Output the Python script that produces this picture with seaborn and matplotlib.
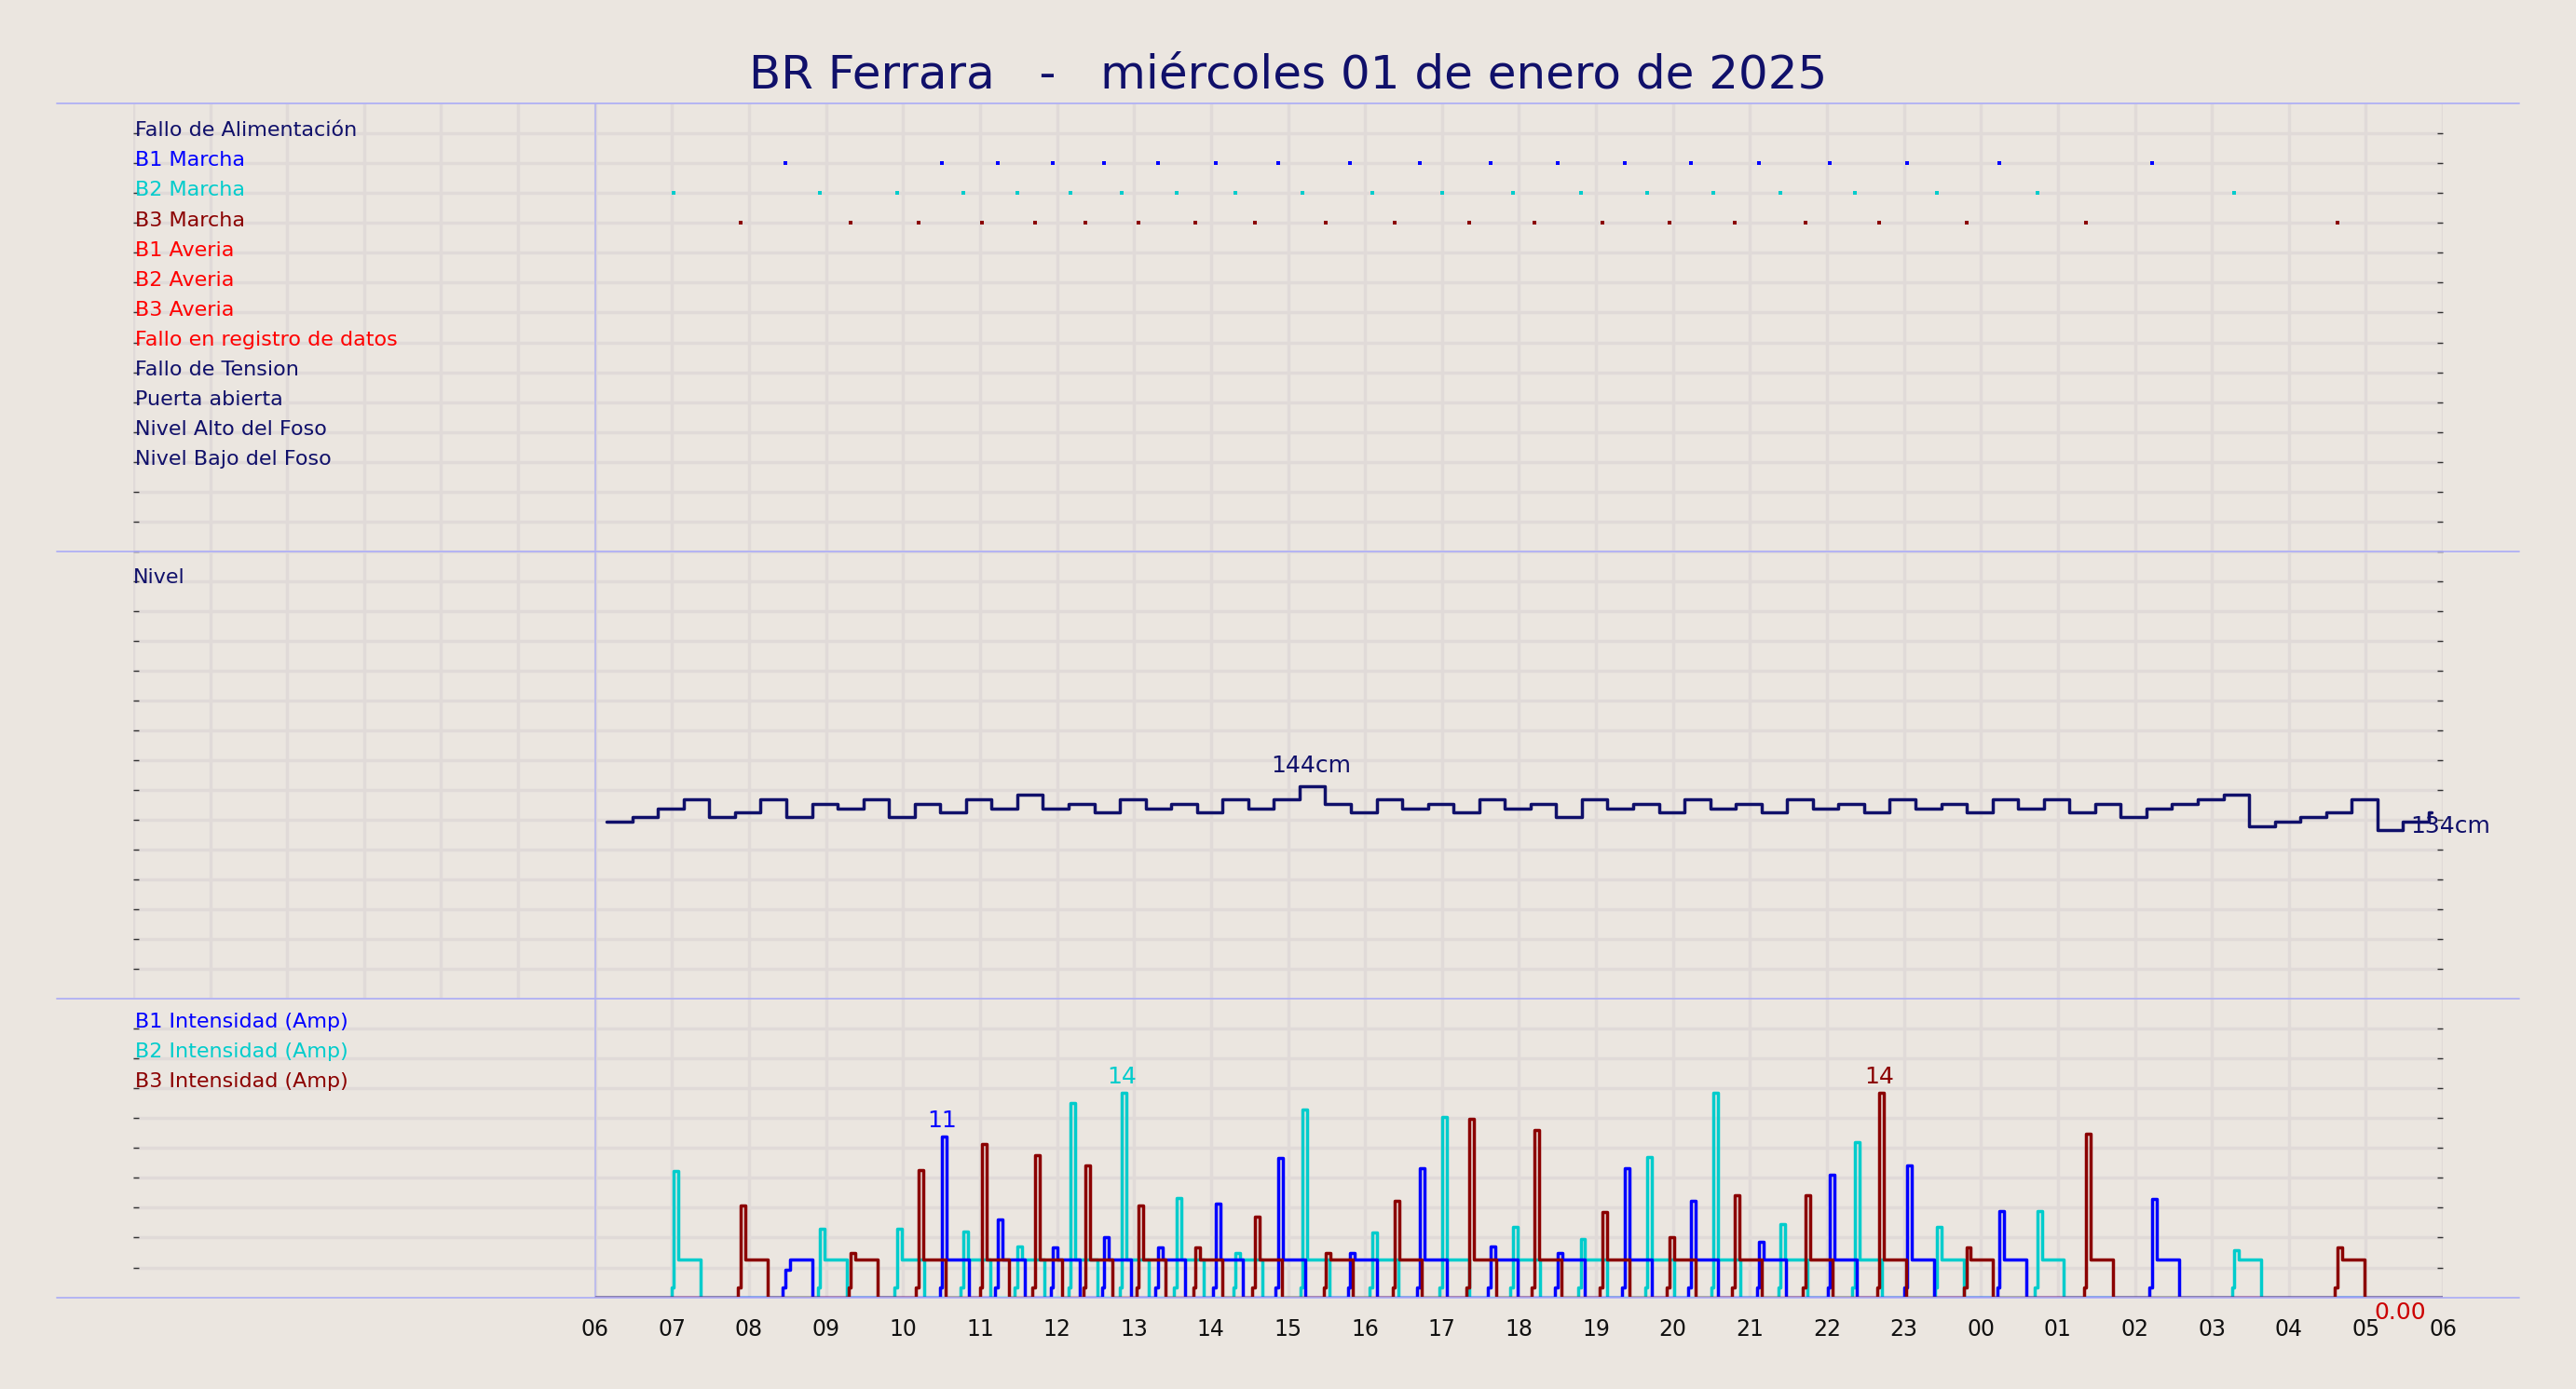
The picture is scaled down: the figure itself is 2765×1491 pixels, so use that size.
import numpy as np
import pandas as pd
import matplotlib
matplotlib.use("Agg")
import matplotlib.pyplot as plt
import seaborn as sns

sns.set_theme(style="white")
plt.rcParams['font.family'] = ['DejaVu Sans']

BG = '#ebe6e0'
NAVY = '#10106a'
C_B1, C_B2, C_B3, C_RED = '#0000ff', '#00cccc', '#8b0000', '#ff0000'

title = "BR Ferrara   -   miércoles 01 de enero de 2025"
row_labels = ["Fallo de Alimentación", "B1 Marcha", "B2 Marcha", "B3 Marcha", "B1 Averia",
              "B2 Averia", "B3 Averia", "Fallo en registro de datos", "Fallo de Tension",
              "Puerta abierta", "Nivel Alto del Foso", "Nivel Bajo del Foso"]
row_colors = [NAVY, C_B1, C_B2, C_B3, C_RED, C_RED, C_RED, C_RED, NAVY, NAVY, NAVY, NAVY]
hour_labels = ["06","07","08","09","10","11","12","13","14","15","16","17","18","19","20",
               "21","22","23","00","01","02","03","04","05","06"]

# pump start times (hours since 00:00 of the day) and peak current (A)
b1_start = [8.47, 10.51, 11.23, 11.95, 12.61, 13.31, 14.06, 14.87, 15.81, 16.71, 17.63, 18.5,
            19.37, 20.23, 21.12, 22.04, 23.04, 24.24, 26.22]
b1_peak = [1.9, 11.0, 5.3, 3.4, 4.1, 3.4, 6.4, 9.5, 3.0, 8.8, 3.5, 3.0, 8.8, 6.6, 3.8, 8.4,
           9.0, 5.9, 6.7]
b2_start = [7.02, 8.92, 9.92, 10.78, 11.48, 12.18, 12.84, 13.55, 14.32, 15.19, 16.09, 17.0,
            17.92, 18.8, 19.67, 20.53, 21.4, 22.36, 23.43, 24.73, 27.29]
b2_peak = [8.6, 4.7, 4.7, 4.5, 3.5, 13.3, 14.0, 6.8, 3.0, 12.8, 4.4, 12.3, 4.8, 4.0, 9.6,
           14.0, 5.0, 10.6, 4.8, 5.9, 3.2]
b3_start = [7.89, 9.32, 10.2, 11.03, 11.71, 12.37, 13.06, 13.8, 14.57, 15.49, 16.39, 17.35,
            18.2, 19.08, 19.95, 20.8, 21.72, 22.68, 23.81, 25.37, 28.63]
b3_peak = [6.3, 3.0, 8.7, 10.5, 9.7, 9.0, 6.3, 3.4, 5.5, 3.0, 6.6, 12.2, 11.4, 5.8, 4.1,
           7.0, 7.0, 14.0, 3.4, 11.2, 3.4]

level_cm = [136, 137, 139, 141, 137, 138, 141, 137, 140, 139, 141, 137, 140, 138, 141, 139,
            142, 139, 140, 138, 141, 139, 140, 138, 141, 139, 141, 144, 140, 138, 141, 139,
            140, 138, 141, 139, 140, 137, 141, 139, 140, 138, 141, 139, 140, 138, 141, 139,
            140, 138, 141, 139, 140, 138, 141, 139, 141, 138, 140, 137, 139, 140, 141, 142,
            135, 136, 137, 138, 141, 134, 136, 138]
level_step_h = 1/3

W, H = 27.65, 14.91
fig = plt.figure(figsize=(W, H), dpi=100, facecolor=BG)
L, R = 0.0517, 0.9483
y_sep = [0.9255, 0.603, 0.281, 0.066]
ax_top = fig.add_axes([L, y_sep[1], R-L, y_sep[0]-y_sep[1]])
ax_mid = fig.add_axes([L, y_sep[2], R-L, y_sep[1]-y_sep[2]])
ax_bot = fig.add_axes([L, y_sep[3], R-L, y_sep[2]-y_sep[3]])

GRID = '#e0dad8'
for ax in (ax_top, ax_mid, ax_bot):
    ax.set_facecolor(BG)
    ax.set_xlim(0, 30)
    for s in ax.spines.values():
        s.set_visible(False)
    ax.set_xticks(np.arange(0, 31, 1))
    ax.grid(True, color=GRID, lw=2.5)
    ax.set_axisbelow(True)
    ax.tick_params(axis='y', which='both', left=True, right=True, labelleft=False,
                   length=4, width=1, direction='in', color='#333333')
    ax.tick_params(axis='x', bottom=False, labelbottom=False)
    ax.axvline(6, color='#b8b8f0', lw=1.2, zorder=1)

def steps(t, v):
    """explicit step vertices (steps-post)"""
    xs, ys = [], []
    for i in range(len(t)):
        if i > 0:
            xs.append(t[i]); ys.append(v[i - 1])
        xs.append(t[i]); ys.append(v[i])
    return pd.DataFrame({'t': xs, 'v': ys, 'o': np.arange(len(xs))})

# top panel
ax_top.set_ylim(15, 0)
ax_top.set_yticks(np.arange(1, 16))
for i, (lab, col) in enumerate(zip(row_labels, row_colors)):
    ax_top.text(0.02, i + 1.1, lab, color=col, fontsize=16, va='baseline', ha='left')
for starts, row, col in [(b1_start, 2, C_B1), (b2_start, 3, C_B2), (b3_start, 4, C_B3)]:
    d = pd.DataFrame({'t': starts, 'r': [row] * len(starts)})
    sns.scatterplot(data=d, x='t', y='r', marker='s', s=12, color=col, linewidth=0, ax=ax_top)
ax_top.set_xlabel(''); ax_top.set_ylabel('')

# middle panel
ax_mid.set_ylim(96, 197)
ax_mid.set_yticks(np.linspace(96, 197, 16)[1:])
lv_t = list(6.15 + np.arange(len(level_cm)) * level_step_h) + [29.85]
dl = steps(lv_t, level_cm + [level_cm[-1]])
sns.lineplot(data=dl, x='t', y='v', units='o', color=NAVY, lw=2.5,
             estimator=None, sort=False, ax=ax_mid) if False else \
    sns.lineplot(data=dl, x='t', y='v', color=NAVY, lw=2.5, estimator=None, sort=False, ax=ax_mid)
ax_mid.text(0.0, 191, "Nivel", color=NAVY, fontsize=16, va='center', ha='left')
imax = int(np.argmax(level_cm)); imin = int(np.argmin(level_cm))
ax_mid.text(lv_t[imax] + 0.15, max(level_cm) + 2, f"{max(level_cm)}cm", color=NAVY,
            fontsize=18, ha='center', va='bottom')
ax_mid.text(lv_t[imin] + 0.95, min(level_cm) + 1, f"{min(level_cm)}cm", color=NAVY,
            fontsize=18, ha='center', va='center')
ax_mid.set_xlabel(''); ax_mid.set_ylabel('')

# bottom panel
def pulses(starts, peaks):
    t, v = [6.0], [0.0]
    for s, p in zip(starts, peaks):
        t += [s - 0.05, s - 0.03, s, s + 0.06, s + 0.35]
        v += [0.0, 0.7, p, 2.6, 0.0]
    t.append(30.0); v.append(0.0)
    return steps(t, v)

ax_bot.set_ylim(0, 20.4)
ax_bot.set_yticks(np.arange(2.04, 20.4, 2.04))
for starts, peaks, col in [(b2_start, b2_peak, C_B2), (b1_start, b1_peak, C_B1),
                           (b3_start, b3_peak, C_B3)]:
    d = pulses(starts, peaks)
    sns.lineplot(data=d, x='t', y='v', color=col, lw=2.5,
                 estimator=None, sort=False, ax=ax_bot)
    k = int(np.argmax(peaks))
    ax_bot.text(starts[k], peaks[k] + 0.3, f"{round(peaks[k])}", color=col, fontsize=18,
                ha='center', va='bottom')
for i, (lab, col) in enumerate([("B1 Intensidad (Amp)", C_B1), ("B2 Intensidad (Amp)", C_B2),
                                ("B3 Intensidad (Amp)", C_B3)]):
    ax_bot.text(0.02, 18.8 - 2.04 * i, lab, color=col, fontsize=16, va='center', ha='left')
ax_bot.text(29.45, -0.3, "0.00", color='#cc0000', fontsize=18, ha='center', va='top')
ax_bot.set_xticks(np.arange(6, 31, 1))
ax_bot.set_xticklabels(hour_labels, fontsize=17, color='#111111')
ax_bot.tick_params(axis='x', bottom=False, labelbottom=True, pad=10)
ax_bot.set_xlabel(''); ax_bot.set_ylabel('')

# separators
for y in y_sep:
    fig.add_artist(plt.Line2D([0.022, 0.978], [y, y], color='#b0b0f5', lw=1.3))

fig.text(0.5, 0.946, title, color=NAVY, fontsize=36, ha='center', va='center')
fig.savefig("out.png", dpi=100, facecolor=BG)
